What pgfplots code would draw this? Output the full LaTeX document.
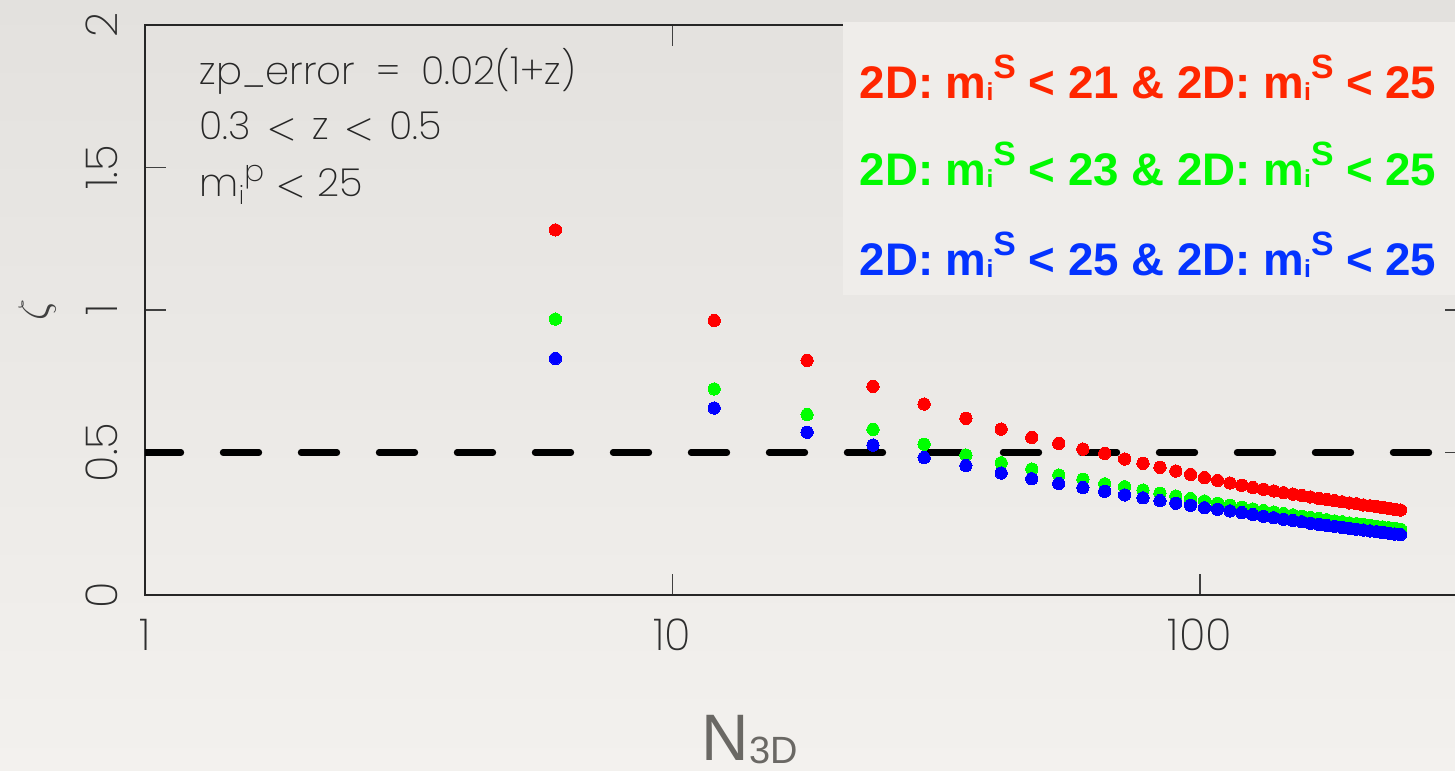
\documentclass[border=0pt]{standalone}
\usepackage{pgfplots}
\usepackage{pgfplotstable}
\pgfplotsset{compat=1.18}
\usepackage{fontspec}
\newfontfamily\thinfont{Poppins ExtraLight}
\newfontfamily\arialfont{Liberation Sans}

\definecolor{bgtop}{HTML}{E3E1DE}
\definecolor{bgbot}{HTML}{F3F1EE}
\definecolor{boxbg}{HTML}{EFEDEA}
\definecolor{tickgray}{HTML}{2E2E2E}
\definecolor{labgray}{HTML}{6A6864}
\definecolor{ptred}{HTML}{FF0000}
\definecolor{ptgreen}{HTML}{00FF00}
\definecolor{ptblue}{HTML}{0000FF}
\definecolor{legred}{HTML}{FF2600}
\definecolor{leggreen}{HTML}{00F900}
\definecolor{legblue}{HTML}{0433FF}

% zeta as a function of N_3D for the three 2D magnitude cuts
\pgfplotstableread{
N   red   green blue
6   1.281 0.968 0.830
12  0.963 0.723 0.656
18  0.823 0.633 0.571
24  0.732 0.581 0.526
30  0.670 0.529 0.482
36  0.620 0.491 0.454
42  0.582 0.464 0.428
48  0.553 0.442 0.408
54  0.532 0.421 0.391
60  0.512 0.406 0.377
66  0.497 0.390 0.364
72  0.477 0.380 0.351
78  0.462 0.368 0.341
84  0.448 0.357 0.331
90  0.435 0.347 0.322
96  0.423 0.338 0.315
102 0.412 0.330 0.306
108 0.402 0.322 0.301
114 0.393 0.315 0.295
120 0.385 0.308 0.289
126 0.377 0.302 0.282
132 0.371 0.296 0.276
138 0.365 0.291 0.271
144 0.359 0.286 0.266
150 0.354 0.281 0.261
156 0.349 0.276 0.257
162 0.344 0.272 0.252
168 0.339 0.268 0.248
174 0.335 0.264 0.244
180 0.331 0.260 0.241
186 0.327 0.257 0.237
192 0.323 0.253 0.234
198 0.320 0.250 0.231
204 0.316 0.247 0.228
210 0.313 0.244 0.225
216 0.310 0.241 0.222
222 0.307 0.239 0.219
228 0.304 0.236 0.217
234 0.301 0.233 0.214
240 0.298 0.231 0.212
}\zetatable

\newcommand{\mis}{m\raisebox{-0.5pt}{\fontsize{7}{7}\selectfont i}\raisebox{5.7pt}{\fontsize{9.6}{9.6}\selectfont S}}
\newcommand{\mip}{m\raisebox{-2.2pt}{\fontsize{7.3}{7.3}\selectfont i}\raisebox{4.4pt}{\fontsize{8.4}{8.4}\selectfont p}}
\newcommand{\lt}{\hspace{0.4em}\ensuremath{<}\hspace{0.4em}}

\begin{document}
\begin{tikzpicture}
\useasboundingbox (-1.45,-1.76) rectangle (13.10,5.95);
\shade[top color=bgtop, bottom color=bgbot] (-1.45,-1.76) rectangle (13.10,5.95);

\begin{axis}[
  at={(0,0)}, anchor=south west,
  scale only axis, width=13.21cm, height=5.70cm,
  xmode=log, log basis x=10,
  xmin=1, xmax=319.5, ymin=0, ymax=2,
  axis line style={line width=0.45pt, draw=black!85},
  tick style={line width=0.45pt, draw=black!75},
  tick align=inside, major tick length=0.21cm,
  xtick={1,10,100}, xticklabels={1,10,100},
  ytick={0,0.5,1,1.5,2}, yticklabels={0,0.5,1,1.5,2},
  minor xtick={}, minor ytick={},
  tick label style={font=\thinfont\fontsize{12.5}{12.5}\selectfont, text=tickgray},
  yticklabel style={rotate=90, anchor=south},
  xticklabel shift=0.12cm, yticklabel shift=0.15cm,
]
\addplot[only marks, mark=*, mark size=1.75pt, mark options={draw=ptred, fill=ptred, line width=0pt}]
  table[x=N, y=red] {\zetatable};
\addplot[only marks, mark=*, mark size=1.75pt, mark options={draw=ptgreen, fill=ptgreen, line width=0pt}]
  table[x=N, y=green] {\zetatable};
\addplot[only marks, mark=*, mark size=1.75pt, mark options={draw=ptblue, fill=ptblue, line width=0pt}]
  table[x=N, y=blue] {\zetatable};
\addplot[black, line width=1.8pt, line cap=round, dash pattern=on 0.36cm off 0.42cm]
  coordinates {(1,0.5) (319.5,0.5)};
\end{axis}

% legend panel
\fill[boxbg] (6.98,3.00) rectangle (13.10,5.73);
\begin{scope}[every node/.style={anchor=base west, inner sep=0pt,
    font=\arialfont\bfseries\fontsize{13}{13}\selectfont}]
\node[text=legred]   at (7.14,4.96) {2D: \mis{} < 21 \& 2D: \mis{} < 25};
\node[text=leggreen] at (7.14,4.09) {2D: \mis{} < 23 \& 2D: \mis{} < 25};
\node[text=legblue]  at (7.14,3.19) {2D: \mis{} < 25 \& 2D: \mis{} < 25};
\end{scope}

% selection notes
\begin{scope}[every node/.style={anchor=base west, inner sep=0pt, text=black!85,
    font=\thinfont\fontsize{11}{11}\selectfont}]
\node at (0.54,5.10) {zp\_error\hspace{0.55em}=\hspace{0.55em}0.02(1+z)};
\node at (0.54,4.55) {0.3\lt z\lt 0.5};
\node at (0.54,3.98) {\mip{}\hspace{0.3em}\ensuremath{<}\hspace{0.3em}25};
\end{scope}

% axis titles
\node[rotate=90, text=black!75, inner sep=0pt] at (-1.08,2.85) {\fontsize{12}{12}\selectfont$\zeta$};
\node[anchor=base west, inner sep=0pt, text=labgray, font=\arialfont\fontsize{18.7}{18.7}\selectfont]
  at (5.56,-1.66) {N\raisebox{-0.8pt}{\fontsize{10.8}{10.8}\selectfont 3D}};
\end{tikzpicture}
\end{document}
